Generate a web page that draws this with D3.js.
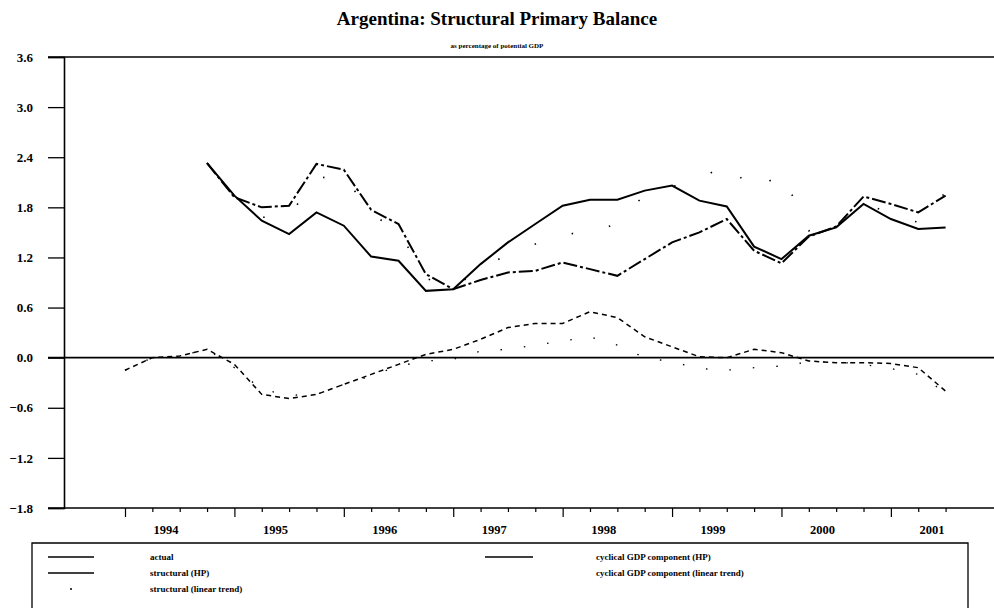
<!DOCTYPE html>
<html>
<head>
<meta charset="utf-8">
<script src="https://cdn.jsdelivr.net/npm/d3@7"></script>
<style>
  body { margin: 0; background: #fff; }
  svg { display: block; font-family: "Liberation Serif", "Times New Roman", serif; font-weight: bold; }
</style>
</head>
<body>
<div id="chart"></div>
<script>
// quarters, index 0 = 1994Q1
const quarters = ["1994Q1","1994Q2","1994Q3","1994Q4","1995Q1","1995Q2","1995Q3","1995Q4",
  "1996Q1","1996Q2","1996Q3","1996Q4","1997Q1","1997Q2","1997Q3","1997Q4",
  "1998Q1","1998Q2","1998Q3","1998Q4","1999Q1","1999Q2","1999Q3","1999Q4",
  "2000Q1","2000Q2","2000Q3","2000Q4","2001Q1","2001Q2","2001Q3"]
const years = ["1994","1995","1996","1997","1998","1999","2000","2001"]
const yTicks = [-1.8, -1.2, -0.6, 0.0, 0.6, 1.2, 1.8, 2.4, 3.0, 3.6]

// upper series start at 1994Q4
const actual = [2.33, 1.94, 1.64, 1.48, 1.74, 1.58, 1.21, 1.16, 0.80, 0.82, 1.12, 1.38, 1.60, 1.82,
  1.89, 1.89, 2.00, 2.06, 1.88, 1.81, 1.33, 1.18, 1.46, 1.56, 1.84, 1.66, 1.54, 1.56]
const structuralHP = [2.33, 1.92, 1.80, 1.82, 2.32, 2.25, 1.77, 1.60, 1.00, 0.82, 0.93, 1.02, 1.04, 1.14,
  1.06, 0.98, 1.18, 1.38, 1.50, 1.66, 1.28, 1.13, 1.45, 1.57, 1.93, 1.84, 1.74, 1.94]
const structuralLin = [2.33, 1.93, 1.68, 1.70, 2.15, 2.18, 1.72, 1.52, 0.95, 0.84, 1.06, 1.24, 1.36, 1.50,
  1.46, 1.62, 1.95, 2.05, 2.12, 2.34, 1.98, 2.22, 1.52, 1.60, 1.86, 1.72, 1.62, 1.98]
// cyclical series start at 1994Q1
const cyclicalHP = [-0.15, 0.00, 0.02, 0.10, -0.08, -0.44, -0.49, -0.44, -0.32, -0.20, -0.08, 0.04, 0.10,
  0.22, 0.36, 0.41, 0.41, 0.55, 0.48, 0.25, 0.13, 0.01, 0.00, 0.10, 0.06, -0.04, -0.06, -0.06, -0.07, -0.12, -0.40]
const cyclicalLin = [-0.15, 0.00, 0.02, 0.10, -0.12, -0.38, -0.45, -0.44, -0.32, -0.22, -0.10, -0.04, -0.02,
  0.08, 0.10, 0.15, 0.20, 0.25, 0.15, 0.00, -0.05, -0.13, -0.15, -0.12, -0.10, -0.05, -0.05, -0.08, -0.13, -0.20, -0.42]

const width = 994, height = 608
const margin = ({top: 57, right: 0, bottom: 100, left: 64})

const svg = d3.select("#chart").append("svg")
  .attr("width", width).attr("height", height)
  .attr("viewBox", [0, 0, width, height])

const x = d3.scaleLinear()
  .domain([-2.23, 31.77])
  .range([margin.left, width - margin.right])

const y = d3.scaleLinear()
  .domain([-1.8, 3.6])
  .range([height - margin.bottom, margin.top])

// title
svg.append("text")
  .attr("x", 497).attr("y", 25)
  .attr("text-anchor", "middle")
  .attr("font-size", 19)
  .text("Argentina: Structural Primary Balance")

svg.append("text")
  .attr("x", 497).attr("y", 48)
  .attr("text-anchor", "middle")
  .attr("font-size", 7)
  .text("as percentage of potential GDP")

// y axis
const yAxis = g => g
  .attr("transform", `translate(${margin.left},0)`)
  .call(d3.axisLeft(y).tickValues(yTicks).tickSize(16).tickFormat(d3.format(".1f")))
  .call(g => g.select(".domain").attr("stroke-width", 1.6))
  .call(g => g.selectAll(".tick line").attr("stroke-width", 1.3))
  .call(g => g.selectAll(".tick text")
    .attr("x", -31)
    .attr("font-size", 13)
    .attr("font-family", "Liberation Serif")
    .attr("font-weight", "bold"))
svg.append("g").call(yAxis)

// horizontal frame lines at top, zero and bottom
svg.append("g")
  .selectAll("line")
  .data([3.6, 0, -1.8])
  .join("line")
  .attr("x1", margin.left - 16).attr("x2", width)
  .attr("y1", d => y(d)).attr("y2", d => y(d))
  .attr("stroke", "#000")
  .attr("stroke-width", d => d === 0 ? 1.6 : 1.5)

// x axis, quarterly ticks
const xAxis = g => g
  .attr("transform", `translate(0,${y(-1.8)})`)
  .call(d3.axisBottom(x).tickValues(d3.range(quarters.length)).tickFormat("").tickSize(4))
  .call(g => g.select(".domain").remove())
  .call(g => g.selectAll(".tick line")
    .attr("stroke-width", 1.2)
    .attr("y2", d => d % 4 === 0 ? 9 : 4))
svg.append("g").call(xAxis)

svg.append("g")
  .selectAll("text")
  .data(years)
  .join("text")
  .attr("x", (d, i) => x(i * 4 + 1.5))
  .attr("y", y(-1.8) + 26)
  .attr("text-anchor", "middle")
  .attr("font-size", 12.5)
  .text(d => d)

// series
const series = [
  {name: "actual", values: actual, start: 3, width: 2, dash: null},
  {name: "structural (HP)", values: structuralHP, start: 3, width: 2, dash: "14,3,3,3"},
  {name: "structural (linear trend)", values: structuralLin, start: 3, width: 1.6, dash: "1.5,38"},
  {name: "cyclical GDP component (HP)", values: cyclicalHP, start: 0, width: 1.5, dash: "5,4"},
  {name: "cyclical GDP component (linear trend)", values: cyclicalLin, start: 0, width: 1.3, dash: "1.5,22"}
]

const line = d3.line()
  .x(d => x(d[0]))
  .y(d => y(d[1]))

svg.append("g")
  .selectAll("path")
  .data(series)
  .join("path")
  .attr("fill", "none")
  .attr("stroke", "#000")
  .attr("stroke-width", d => d.width)
  .attr("stroke-dasharray", d => d.dash)
  .attr("d", s => line(s.values.map((v, i) => [s.start + i, v])))

// legend
const legend = svg.append("g")
legend.append("path")
  .attr("d", "M32,610V543H968V610")
  .attr("fill", "none")
  .attr("stroke", "#000")
  .attr("stroke-width", 1.3)

const legendItems = [
  {name: "actual", col: 0, row: 0, sample: "line"},
  {name: "structural (HP)", col: 0, row: 1, sample: "line"},
  {name: "structural (linear trend)", col: 0, row: 2, sample: "dot"},
  {name: "cyclical GDP component (HP)", col: 1, row: 0, sample: "line"},
  {name: "cyclical GDP component (linear trend)", col: 1, row: 1, sample: "none"}
]
const colX = [[48, 94, 150], [485, 533, 596]]

const item = legend.selectAll("g")
  .data(legendItems)
  .join("g")
  .attr("transform", d => `translate(0,${557 + d.row * 16})`)

item.filter(d => d.sample === "line").append("line")
  .attr("x1", d => colX[d.col][0]).attr("x2", d => colX[d.col][1])
  .attr("stroke", "#000").attr("stroke-width", 1.6)
item.filter(d => d.sample === "dot").append("circle")
  .attr("cx", d => (colX[d.col][0] + colX[d.col][1]) / 2)
  .attr("r", 1)
item.append("text")
  .attr("x", d => colX[d.col][2])
  .attr("y", 3)
  .attr("font-size", 9)
  .text(d => d.name)
</script>
</body>
</html>
